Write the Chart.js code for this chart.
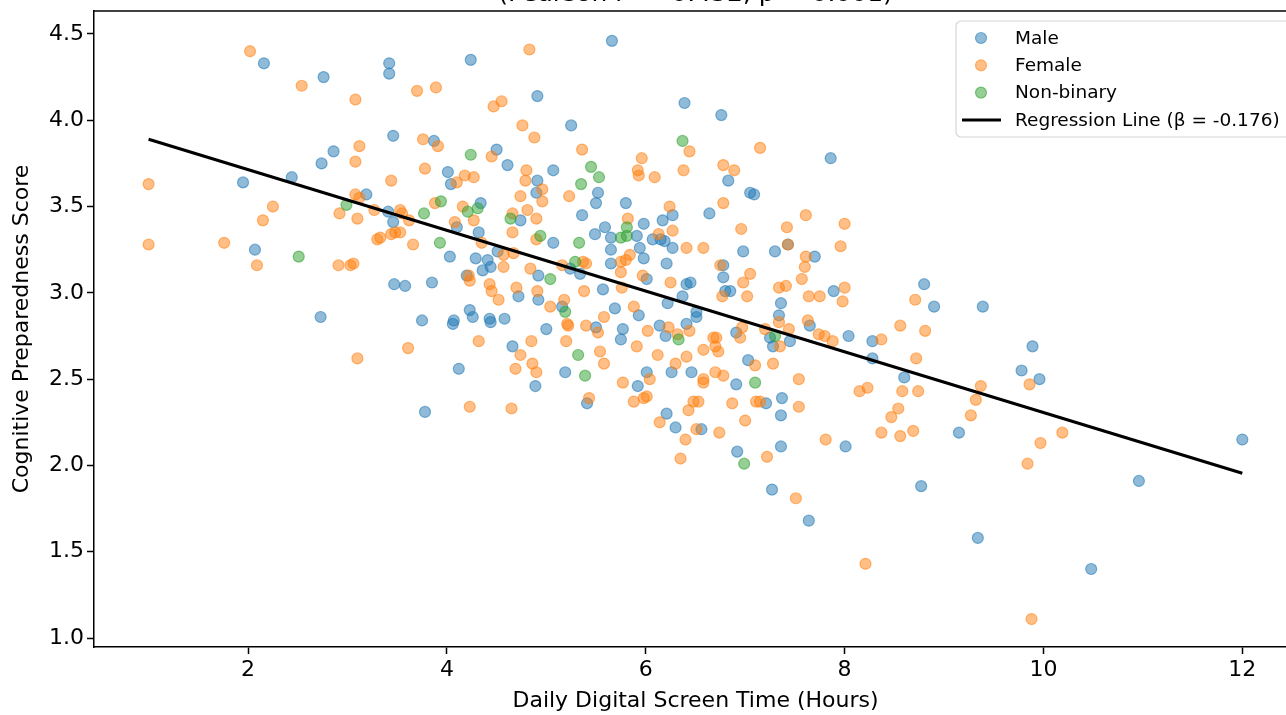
<!DOCTYPE html>
<html>
<head>
<meta charset="utf-8">
<script src="https://cdn.jsdelivr.net/npm/chart.js@4.4.0/dist/chart.umd.min.js"></script>
<style>
  html, body { margin: 0; padding: 0; background: #fff; overflow: hidden; }
  #wrap { width: 1310px; height: 715px; }
</style>
</head>
<body>
<div id="wrap"><canvas id="chart" width="1310" height="715"></canvas></div>
<script>
// values
const maleX = [2.16,2.76,3.42,3.42,1.95,2.44,2.74,2.86,3.46,3.19,3.41,3.46,2.07,3.47,2.73,
  4.24,5.66,4.91,6.39,5.25,3.87,4.50,4.61,4.01,4.04,4.34,4.91,4.90,5.07,5.36,5.52,5.50,5.80,6.27,6.17,5.98,5.59,
  6.76,7.86,6.83,7.05,7.09,6.64,
  4.74,4.10,4.32,5.07,5.49,5.65,5.91,6.07,6.15,6.19,6.27,5.94,5.65,
  4.03,4.29,4.41,4.51,4.44,4.36,4.92,5.34,5.24,5.65,5.98,6.21,6.01,5.57,5.16,6.37,6.41,6.45,4.20,3.58,3.85,4.72,4.92,
  4.23,4.26,3.75,4.07,4.06,4.43,4.44,4.58,5.00,5.50,5.69,5.93,5.77,5.75,6.14,6.20,6.41,6.22,
  4.66,4.89,4.12,5.19,6.26,6.46,6.01,5.92,5.41,6.21,6.30,3.78,
  6.98,7.30,7.43,7.70,6.78,6.78,6.80,6.85,7.89,7.36,7.34,7.65,8.04,8.28,8.28,6.91,7.25,7.28,7.45,6.51,6.51,7.03,6.91,7.21,7.37,7.36,
  8.60,8.80,8.90,9.39,9.89,9.78,9.96,12.0,10.96,10.48,
  6.56,6.92,7.36,7.27,7.64,8.01,8.77,9.15,9.34];
const maleY = [4.33,4.25,4.33,4.27,3.64,3.67,3.75,3.82,3.91,3.57,3.47,3.41,3.25,3.05,2.86,
  4.35,4.46,4.14,4.10,3.97,3.88,3.83,3.74,3.70,3.63,3.52,3.65,3.58,3.71,3.45,3.58,3.52,3.52,3.45,3.42,3.40,3.38,
  4.03,3.78,3.65,3.58,3.57,3.46,
  3.42,3.38,3.35,3.29,3.34,3.32,3.33,3.31,3.31,3.30,3.26,3.26,3.25,
  3.21,3.20,3.19,3.24,3.15,3.13,3.10,3.11,3.14,3.17,3.20,3.17,3.08,3.02,2.92,2.98,3.05,3.06,3.10,3.04,3.06,2.98,2.96,
  2.90,2.86,2.84,2.84,2.82,2.85,2.83,2.85,2.79,2.80,2.91,2.87,2.79,2.73,2.81,2.75,2.82,2.94,
  2.69,2.46,2.56,2.54,2.54,2.54,2.54,2.46,2.36,2.30,2.22,2.31,
  3.24,3.24,3.28,3.21,3.16,3.09,3.01,3.01,3.01,2.94,2.87,2.81,2.75,2.72,2.62,2.77,2.74,2.69,2.72,2.89,2.86,2.61,2.47,2.36,2.39,2.29,
  2.51,3.05,2.92,2.92,2.69,2.55,2.50,2.15,1.91,1.40,
  2.21,2.08,2.11,1.86,1.68,2.11,1.88,2.19,1.58];

const femaleX = [1.00,1.00,2.02,2.54,3.08,3.12,3.08,3.08,3.12,2.25,2.15,2.92,3.10,3.27,3.44,1.76,2.09,2.91,3.03,3.06,3.30,3.33,3.44,3.10,
  4.83,3.70,3.89,4.47,4.55,4.76,4.88,3.76,3.91,4.45,5.36,6.44,5.96,5.92,5.93,6.09,6.38,3.78,4.10,4.18,4.27,3.88,3.53,3.55,3.62,4.16,4.27,4.08,
  4.80,4.79,4.96,4.96,4.74,4.81,4.90,5.23,6.24,5.82,6.27,4.66,
  7.15,6.78,6.89,6.78,7.61,8.00,7.42,6.96,
  3.53,3.48,4.66,4.90,6.13,6.41,3.66,4.57,4.67,4.35,4.57,4.84,5.16,5.37,5.40,5.75,5.84,5.80,5.75,5.97,6.25,5.76,5.38,5.18,
  4.22,4.23,4.43,4.45,4.52,4.70,4.91,5.04,5.22,5.21,5.40,5.52,5.58,5.88,6.02,6.23,6.32,6.44,
  5.20,4.85,4.74,4.86,4.90,4.69,4.32,3.61,5.54,5.58,5.91,6.12,6.41,6.30,6.04,5.77,5.88,5.98,6.01,5.43,6.14,6.43,4.23,4.65,
  6.58,7.43,7.96,7.61,7.60,7.57,6.75,7.05,6.98,6.77,7.02,7.34,7.41,8.00,7.98,7.64,7.75,
  7.34,7.44,7.63,7.74,7.80,7.88,8.37,6.97,6.95,7.35,7.20,6.68,6.71,6.70,6.73,6.58,7.10,7.28,6.70,6.78,6.58,6.58,7.54,
  6.48,6.53,6.87,7.11,7.15,7.54,7.00,8.15,8.23,8.58,8.74,8.54,8.47,8.71,8.56,8.81,8.72,9.32,9.37,9.27,9.86,10.19,9.97,9.84,9.88,
  6.51,6.74,7.22,7.51,7.81,8.21,8.37,8.56,8.69,6.40,6.35];
const femaleY = [3.63,3.28,4.40,4.20,4.12,3.85,3.76,3.57,3.55,3.50,3.42,3.46,3.43,3.48,3.65,3.29,3.16,3.16,3.16,3.17,3.31,3.32,3.34,2.62,
  4.41,4.17,4.19,4.08,4.11,3.97,3.90,3.89,3.85,3.79,3.83,3.82,3.78,3.71,3.68,3.67,3.71,3.72,3.64,3.68,3.67,3.52,3.48,3.46,3.42,3.50,3.42,3.41,
  3.71,3.65,3.60,3.53,3.56,3.48,3.43,3.56,3.50,3.43,3.36,3.46,
  3.84,3.74,3.71,3.52,3.45,3.40,3.38,3.37,
  3.35,3.35,3.35,3.31,3.34,3.26,3.28,3.22,3.23,3.29,3.15,3.14,3.16,3.18,3.17,3.18,3.22,3.19,3.12,3.10,3.06,3.03,3.01,2.96,
  3.10,3.07,3.05,3.01,2.96,3.03,3.01,2.92,2.81,2.82,2.81,2.77,2.86,2.92,2.78,2.80,2.76,2.78,
  2.72,2.72,2.64,2.59,2.54,2.56,2.72,2.68,2.66,2.59,2.69,2.64,2.63,2.59,2.50,2.48,2.37,2.39,2.40,2.39,2.25,2.32,2.34,2.33,
  3.26,3.28,3.27,3.21,3.15,3.08,3.16,3.11,3.06,2.98,2.98,3.03,3.04,3.03,2.95,2.98,2.98,
  2.83,2.79,2.84,2.76,2.75,2.72,2.73,2.80,2.74,2.69,2.79,2.74,2.74,2.69,2.66,2.67,2.58,2.59,2.54,2.52,2.50,2.48,2.50,
  2.37,2.37,2.36,2.37,2.37,2.34,2.26,2.43,2.45,2.43,2.43,2.33,2.28,2.96,2.81,2.78,2.62,2.38,2.46,2.29,2.47,2.19,2.13,2.01,1.11,
  2.21,2.19,2.05,1.81,2.15,1.43,2.19,2.17,2.20,2.15,2.04];

const nbX = [2.99,2.51,4.24,5.45,5.53,5.35,6.37,3.94,3.77,4.21,4.31,4.64,5.81,5.75,5.81,4.94,5.33,3.93,5.04,5.29,5.19,5.32,5.39,6.33,7.30,7.10,6.99];
const nbY = [3.51,3.21,3.80,3.73,3.67,3.63,3.88,3.53,3.46,3.47,3.49,3.43,3.38,3.32,3.33,3.33,3.29,3.29,3.08,3.18,2.89,2.64,2.52,2.73,2.75,2.48,2.01];

const regX = [1, 12];
const regY = [3.89, 1.955];

const xTicks = [2, 4, 6, 8, 10, 12];
const yTicks = [1.0, 1.5, 2.0, 2.5, 3.0, 3.5, 4.0, 4.5];

// only the bottom edge of this line is inside the picture
const titleText = "(Pearson r = -0.452, p < 0.001)";

const toPts = (xs, ys) => xs.map((x, i) => ({ x: x, y: ys[i] }));

const FONT = "'DejaVu Sans', sans-serif";

// top edge of the axes box (left and bottom come from the scale borders,
// the right edge lies just past the picture)
const framePlugin = {
  id: 'frame',
  afterDatasetsDraw(chart) {
    const { ctx, chartArea: a } = chart;
    ctx.save();
    ctx.strokeStyle = '#000';
    ctx.lineWidth = 1.5;
    ctx.beginPath();
    ctx.moveTo(a.left, a.top);
    ctx.lineTo(a.right, a.top);
    ctx.stroke();
    ctx.restore();
  }
};

// matplotlib-like legend box in the upper right corner
const boxLegend = {
  id: 'boxLegend',
  afterDraw(chart) {
    const { ctx, chartArea: a } = chart;
    const left = a.right - 341, top = a.top + 10, w = 334, h = 116;
    ctx.save();
    ctx.beginPath();
    ctx.roundRect(left, top, w, h, 5);
    ctx.fillStyle = 'rgba(255,255,255,0.8)';
    ctx.fill();
    ctx.strokeStyle = '#d6d6d6';
    ctx.lineWidth = 1.2;
    ctx.stroke();

    const order = [3, 2, 1, 0];
    ctx.font = '18.5px ' + FONT;
    ctx.textBaseline = 'middle';
    ctx.textAlign = 'left';
    order.forEach((di, i) => {
      const ds = chart.data.datasets[di];
      const cy = top + 17 + i * 27.3;
      if (ds.type === 'line') {
        ctx.beginPath();
        ctx.moveTo(left + 6, cy);
        ctx.lineTo(left + 45, cy);
        ctx.strokeStyle = ds.borderColor;
        ctx.lineWidth = 3;
        ctx.stroke();
      } else {
        ctx.beginPath();
        ctx.arc(left + 25, cy, 5.5, 0, Math.PI * 2);
        ctx.fillStyle = ds.backgroundColor;
        ctx.fill();
        ctx.strokeStyle = ds.borderColor;
        ctx.lineWidth = 1.2;
        ctx.stroke();
      }
      ctx.fillStyle = '#000';
      ctx.fillText(ds.label, left + 59, cy + 1);
    });
    ctx.restore();
  }
};

// title sits above the visible area, only its lowest pixels show
const topTitle = {
  id: 'topTitle',
  afterDraw(chart) {
    const { ctx, chartArea: a } = chart;
    ctx.save();
    ctx.font = '25px ' + FONT;
    ctx.textAlign = 'center';
    ctx.textBaseline = 'alphabetic';
    ctx.fillStyle = '#000';
    ctx.fillText(titleText, (a.left + a.right) / 2, 0.5);
    ctx.restore();
  }
};

new Chart(document.getElementById('chart'), {
  type: 'scatter',
  data: {
    datasets: [
      {
        type: 'line',
        label: 'Regression Line (\u03b2 = -0.176)',
        data: toPts(regX, regY),
        borderColor: '#000',
        borderWidth: 3,
        pointRadius: 0,
        fill: false,
        order: 0
      },
      {
        label: 'Non-binary',
        data: toPts(nbX, nbY),
        backgroundColor: 'rgba(44,160,44,0.5)',
        borderColor: 'rgba(44,160,44,0.55)',
        borderWidth: 1.2,
        pointRadius: 5.5,
        order: 1
      },
      {
        label: 'Female',
        data: toPts(femaleX, femaleY),
        backgroundColor: 'rgba(255,127,14,0.5)',
        borderColor: 'rgba(255,127,14,0.55)',
        borderWidth: 1.2,
        pointRadius: 5.5,
        order: 2
      },
      {
        label: 'Male',
        data: toPts(maleX, maleY),
        backgroundColor: 'rgba(31,119,180,0.5)',
        borderColor: 'rgba(31,119,180,0.55)',
        borderWidth: 1.2,
        pointRadius: 5.5,
        order: 3
      }
    ]
  },
  options: {
    responsive: false,
    maintainAspectRatio: false,
    animation: false,
    devicePixelRatio: 1,
    layout: { padding: { top: 11, right: 13, left: 0, bottom: 0 } },
    plugins: {
      legend: { display: false },
      title: { display: false },
      tooltip: { enabled: false }
    },
    scales: {
      x: {
        type: 'linear',
        position: 'bottom',
        min: 0.451,
        max: 12.55,
        afterFit: (s) => { s.height = 68; },
        afterBuildTicks: (s) => { s.ticks = xTicks.map(v => ({ value: v })); },
        grid: { display: true, drawOnChartArea: false, drawTicks: true, tickLength: 7, tickWidth: 1.5, tickColor: '#000', color: '#000' },
        border: { display: true, color: '#000', width: 1.5 },
        ticks: {
          color: '#000',
          padding: 3,
          font: { family: FONT, size: 22 },
          callback: (v) => String(v)
        },
        title: {
          display: true,
          text: 'Daily Digital Screen Time (Hours)',
          color: '#000',
          font: { family: FONT, size: 22 },
          padding: { top: 0, bottom: 1 }
        }
      },
      y: {
        type: 'linear',
        min: 0.948,
        max: 4.633,
        afterFit: (s) => { s.width = 94; },
        afterBuildTicks: (s) => { s.ticks = yTicks.map(v => ({ value: v })); },
        grid: { display: true, drawOnChartArea: false, drawTicks: true, tickLength: 7, tickWidth: 1.5, tickColor: '#000', color: '#000' },
        border: { display: true, color: '#000', width: 1.5 },
        ticks: {
          color: '#000',
          padding: 3,
          // small line height keeps the label box from pushing the plot down
          font: { family: FONT, size: 22, lineHeight: 0.5 },
          callback: (v) => Number(v).toFixed(1)
        },
        title: {
          display: true,
          text: 'Cognitive Preparedness Score',
          color: '#000',
          font: { family: FONT, size: 22 },
          padding: { top: 9, bottom: 0 }
        }
      }
    }
  },
  plugins: [framePlugin, boxLegend, topTitle]
});
</script>
</body>
</html>
